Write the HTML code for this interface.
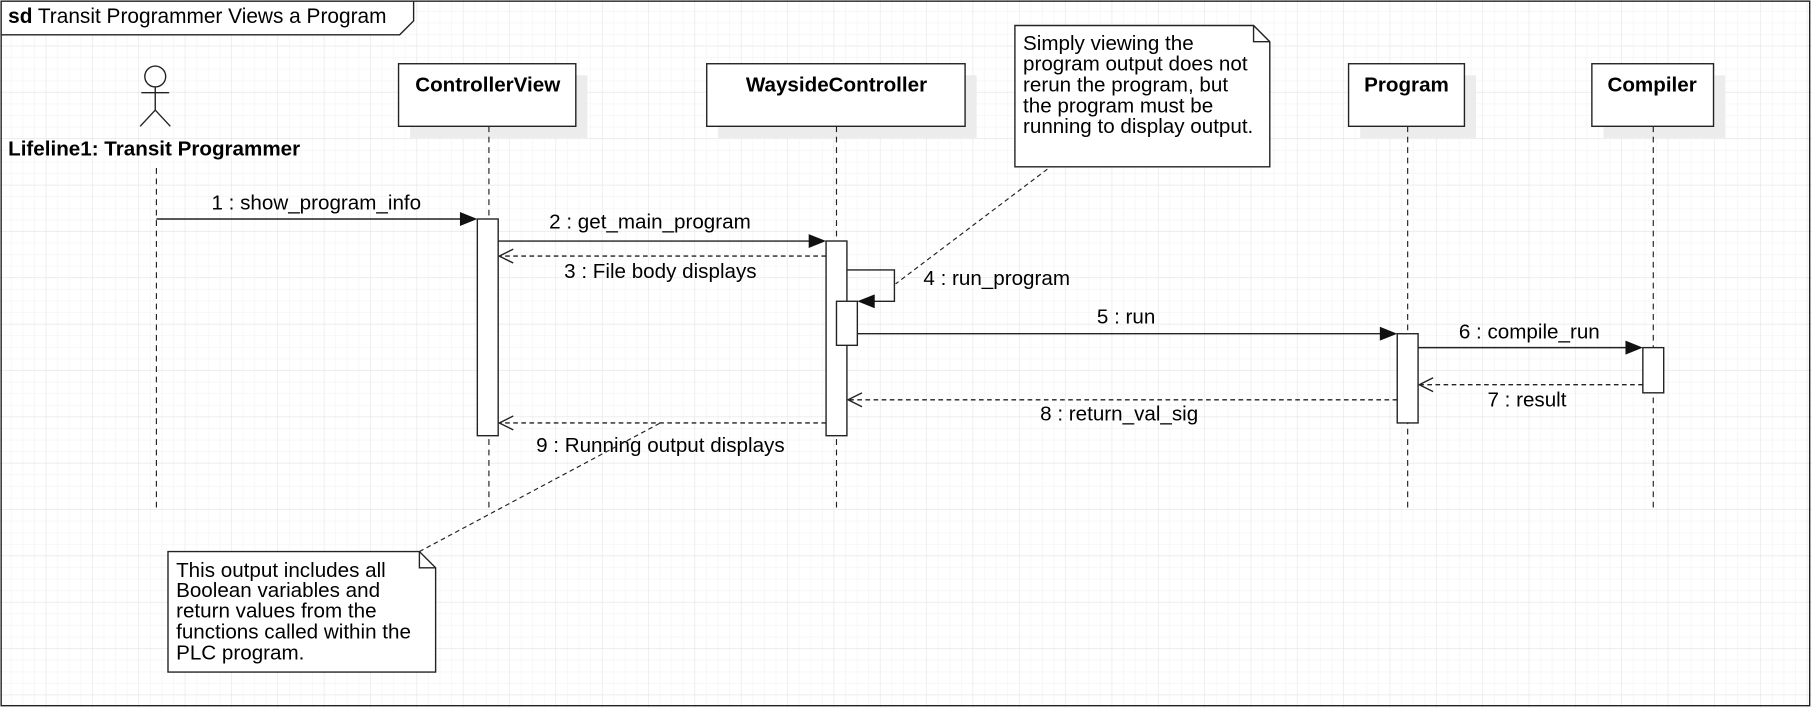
<!DOCTYPE html>
<html><head><meta charset="utf-8"><style>html,body{margin:0;padding:0;background:#fff}svg{display:block}</style></head>
<body>
<svg width="1812" height="708" viewBox="0 0 1564 611" preserveAspectRatio="none" xmlns="http://www.w3.org/2000/svg" font-family="Liberation Sans, sans-serif" font-size="17.8">
<defs>
<pattern id="g" width="10" height="10" patternUnits="userSpaceOnUse"><path d="M10 0V10H0" fill="none" stroke="#f2f2f2" stroke-width="1"/></pattern>
<pattern id="G" width="40" height="40" patternUnits="userSpaceOnUse"><rect width="40" height="40" fill="url(#g)"/><path d="M40 0V40H0" fill="none" stroke="#e4e4e4" stroke-width="1"/></pattern>
</defs>
<rect width="1564" height="611" fill="#fff"/>
<rect width="1564" height="611" fill="url(#G)"/>
<rect x="1" y="1" width="1561" height="608" fill="none" stroke="#222" stroke-width="1.2"/>
<path d="M1 1H357V18L345 30H1Z" fill="#fff" stroke="#222" stroke-width="1.2"/>
<text x="7" y="20" font-size="18"><tspan font-weight="bold">sd</tspan>  Transit Programmer Views a Program</text>

<g fill="#ececec"><rect x="354" y="65" width="153" height="54"/><rect x="620" y="65" width="223" height="54"/><rect x="1174" y="65" width="100" height="54"/><rect x="1384" y="65" width="105" height="54"/></g>
<g fill="#fff" stroke="#222" stroke-width="1.2"><rect x="344" y="55" width="153" height="54"/><rect x="610" y="55" width="223" height="54"/><rect x="1164" y="55" width="100" height="54"/><rect x="1374" y="55" width="105" height="54"/></g>
<g font-weight="bold" text-anchor="middle"><text x="421" y="79">ControllerView</text><text x="722" y="79">WaysideController</text><text x="1214" y="79">Program</text><text x="1426" y="79">Compiler</text></g>

<g fill="none" stroke="#222" stroke-width="1.2"><circle cx="134" cy="66" r="9"/><path d="M134 75V95M122 80H146M134 95L121 109M134 95L147 109"/></g>
<text x="7" y="134" font-weight="bold">Lifeline1: Transit Programmer</text>

<g stroke="#222" stroke-width="1" stroke-dasharray="5,4"><path d="M135 145V440M422 109V440M722 109V440M1215 109V440M1427 109V440"/></g>

<g fill="#fff" stroke="#222" stroke-width="1.2"><rect x="412" y="189" width="18" height="187"/><rect x="713" y="208" width="18" height="168"/><rect x="722" y="260" width="18" height="38"/><rect x="1206" y="288" width="18" height="77"/><rect x="1418" y="300" width="18" height="39"/></g>

<g stroke="#222" stroke-width="1.2" fill="none">
<path d="M135 189H398"/><path d="M430 208H699"/><path d="M731 233H772V260H754"/><path d="M740 288H1192"/><path d="M1224 300H1404"/>
</g>
<g fill="#111"><path d="M412 189L397 183V195Z"/><path d="M713 208L698 202V214Z"/><path d="M740 260L755 254V266Z"/><path d="M1206 288L1191 282V294Z"/><path d="M1418 300L1403 294V306Z"/></g>
<g stroke="#222" stroke-width="1.2" fill="none" stroke-dasharray="4,3"><path d="M713 221H431"/><path d="M1418 332H1225"/><path d="M1206 345H732"/><path d="M713 365H431"/></g>
<g stroke="#222" stroke-width="1.2" fill="none"><path d="M443 215L431 221L443 227"/><path d="M1237 326L1225 332L1237 338"/><path d="M744 339L732 345L744 351"/><path d="M443 359L431 365L443 371"/></g>

<g text-anchor="middle"><text x="273" y="181">1 : show_program_info</text><text x="561" y="197">2 : get_main_program</text><text x="570" y="240">3 : File body displays</text><text x="972" y="279">5 : run</text><text x="1320" y="292">6 : compile_run</text><text x="1318" y="351">7 : result</text><text x="966" y="363">8 : return_val_sig</text><text x="570" y="390">9 : Running output displays</text></g>
<text x="797" y="246">4 : run_program</text>

<g stroke="#222" stroke-width="1" stroke-dasharray="4,3" fill="none"><path d="M904 146L773 245"/><path d="M362 476L570 365"/></g>
<g fill="#fff" stroke="#222" stroke-width="1.2"><path d="M876 22H1082L1096 36V144H876Z"/><path d="M1082 22V36H1096" fill="none"/><path d="M145 476H362L376 490V580H145Z"/><path d="M362 476V490H376" fill="none"/></g>
<g><text x="883" y="43">Simply viewing the</text><text x="883" y="61">program output does not</text><text x="883" y="79">rerun the program, but</text><text x="883" y="97">the program must be</text><text x="883" y="115">running to display output.</text>
<text x="152" y="498">This output includes all</text><text x="152" y="515">Boolean variables and</text><text x="152" y="533">return values from the</text><text x="152" y="551">functions called within the</text><text x="152" y="569">PLC program.</text></g>
</svg>
</body></html>
